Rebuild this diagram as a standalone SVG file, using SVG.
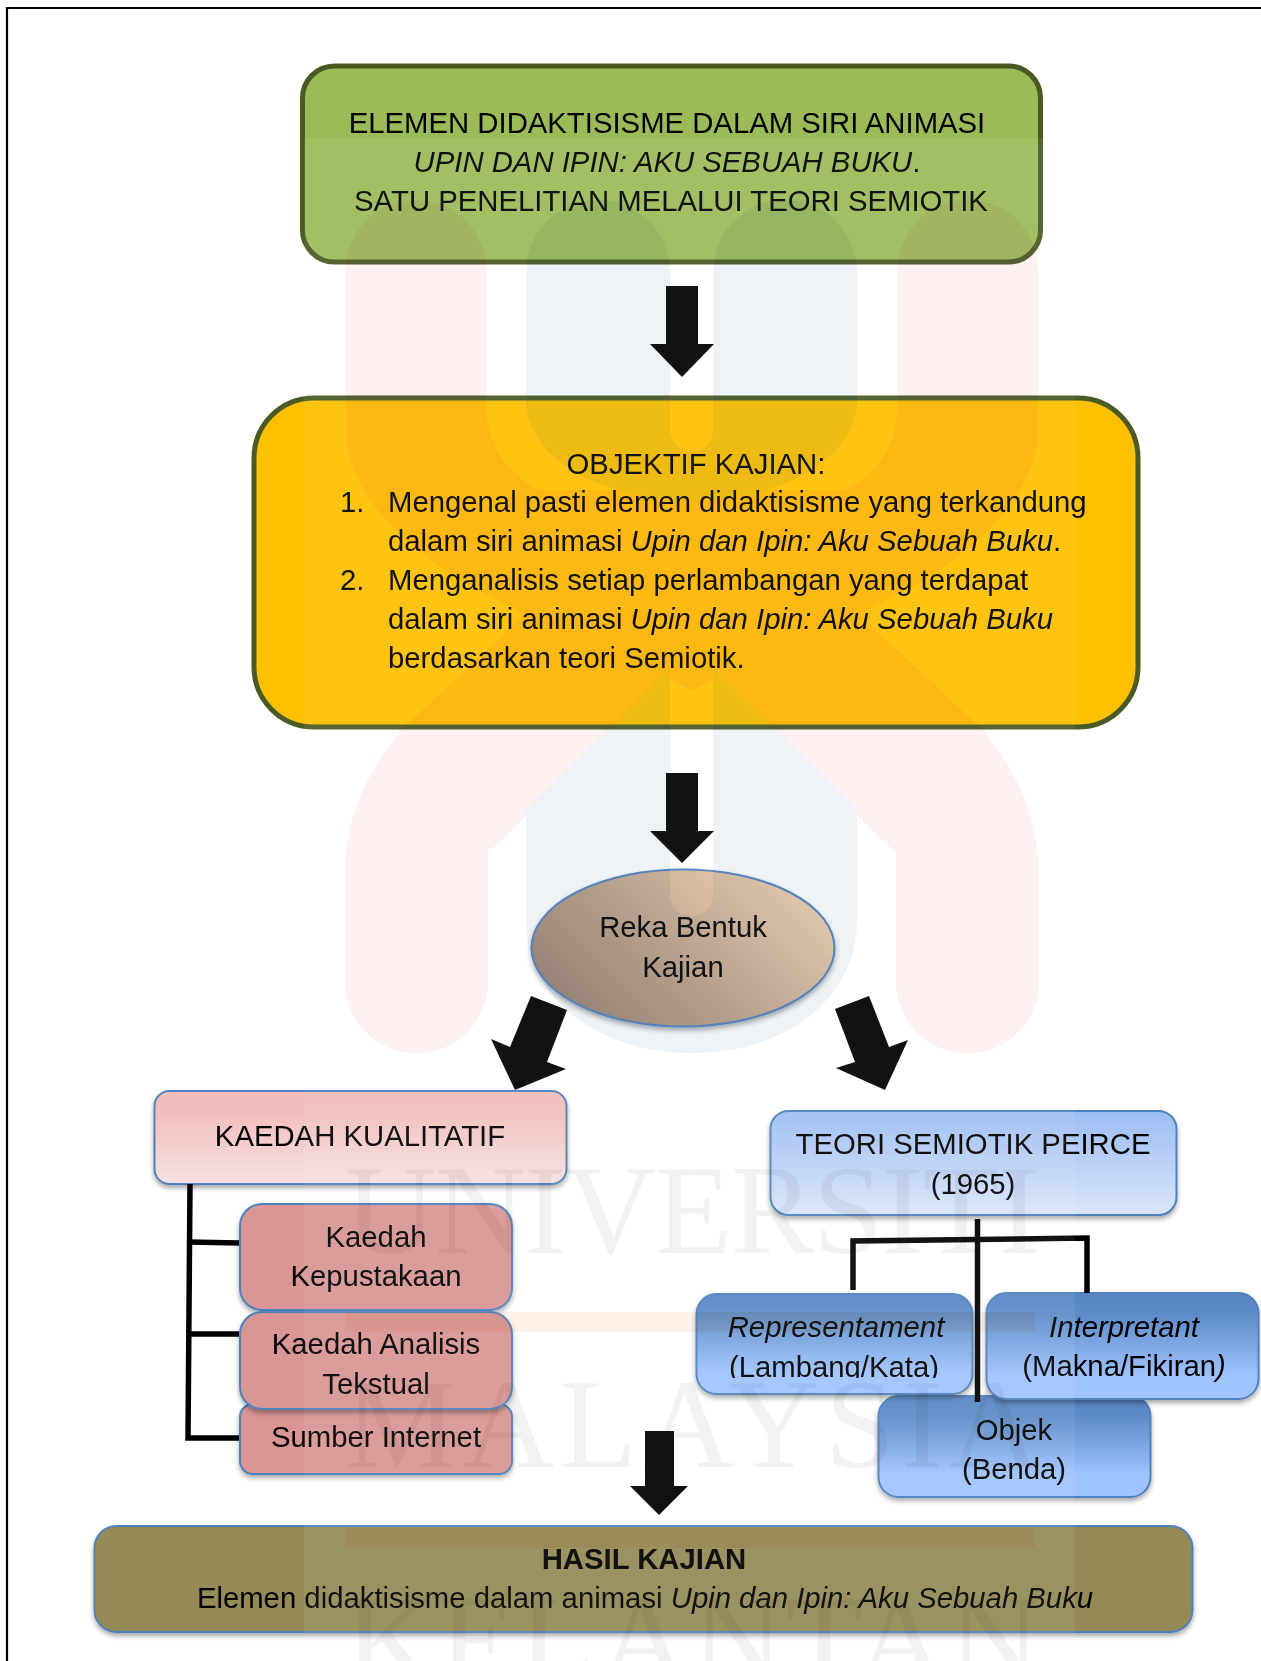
<svg xmlns="http://www.w3.org/2000/svg" width="1261" height="1661" viewBox="0 0 1261 1661">
<style>
text{font-family:"Liberation Sans",Arial,sans-serif;font-size:29.3px;fill:#000;text-anchor:middle}
.l{text-anchor:start}
.i{font-style:italic}
.b{font-weight:bold}
.box{stroke:#4f81bd;stroke-width:2;filter:url(#sh)}
.main{stroke:#495a24;stroke-width:5}
.conn{stroke:#000;stroke-width:5.5;fill:none}
.arr{fill:#000}
</style>
<defs>
<filter id="sh" x="-10%" y="-10%" width="120%" height="130%"><feDropShadow dx="0" dy="3" stdDeviation="2.5" flood-color="#000" flood-opacity="0.35"/></filter>
<linearGradient id="pink" x1="0" y1="0" x2="0" y2="1"><stop offset="0" stop-color="#f2bcbb"/><stop offset="0.2" stop-color="#f2bdbc"/><stop offset="1" stop-color="#f7e1e2"/></linearGradient>
<linearGradient id="pale" x1="0" y1="0" x2="0" y2="1"><stop offset="0" stop-color="#9bbcf2"/><stop offset="1" stop-color="#dae6fb"/></linearGradient>
<linearGradient id="mid" x1="0" y1="0" x2="0" y2="1"><stop offset="0" stop-color="#5786c2"/><stop offset="0.2" stop-color="#5c8bc7"/><stop offset="0.78" stop-color="#9fc3fe"/><stop offset="1" stop-color="#a0c4ff"/></linearGradient>
<linearGradient id="tan" gradientUnits="userSpaceOnUse" x1="595" y1="1030" x2="765" y2="860"><stop offset="0" stop-color="#9a8270"/><stop offset="1" stop-color="#edcaa9"/></linearGradient>
<clipPath id="clipLamb"><rect x="700" y="1345" width="270" height="33"/></clipPath>
</defs>
<rect width="1261" height="1661" fill="#fff"/>
<g id="frame"><path d="M7 1661V8H1261" fill="none" stroke="#000" stroke-width="2.2"/></g>

<g id="node-judul">
<rect class="main" x="302.5" y="66" width="738" height="196" rx="32" fill="#9bbb59"/>
<text x="667" y="133">ELEMEN DIDAKTISISME DALAM SIRI ANIMASI</text>
<text x="667" y="172"><tspan class="i">UPIN DAN IPIN: AKU SEBUAH BUKU</tspan>.</text>
<text x="671" y="211">SATU PENELITIAN MELALUI TEORI SEMIOTIK</text>
</g>

<g id="node-objektif">
<rect class="main" x="254" y="398" width="884" height="329" rx="60" fill="#ffc000"/>
<text x="696" y="474">OBJEKTIF KAJIAN:</text>
<text class="l" x="340" y="512">1.</text>
<text class="l" x="388" y="512">Mengenal pasti elemen didaktisisme yang terkandung</text>
<text class="l" x="388" y="551">dalam siri animasi <tspan class="i">Upin dan Ipin: Aku Sebuah Buku</tspan>.</text>
<text class="l" x="340" y="590">2.</text>
<text class="l" x="388" y="590">Menganalisis setiap perlambangan yang terdapat</text>
<text class="l" x="388" y="629">dalam siri animasi <tspan class="i">Upin dan Ipin: Aku Sebuah Buku</tspan></text>
<text class="l" x="388" y="668">berdasarkan teori Semiotik.</text>
</g>

<g id="node-reka">
<ellipse cx="683" cy="948" rx="151.5" ry="78.5" fill="url(#tan)" class="box"/>
<text x="683" y="937">Reka Bentuk</text>
<text x="683" y="977">Kajian</text>
</g>

<g id="node-kualitatif">
<rect x="154.5" y="1091" width="412" height="93" rx="15" fill="url(#pink)" class="box"/>
<text x="360" y="1146">KAEDAH KUALITATIF</text>
</g>

<g id="node-sumber">
<rect x="240" y="1404" width="272" height="70" rx="13" fill="#d99694" class="box"/>
<text x="376" y="1447">Sumber Internet</text>
</g>
<g id="node-kepustakaan">
<rect x="240" y="1204" width="272" height="106" rx="22" fill="#d99694" class="box"/>
<text x="376" y="1247">Kaedah</text>
<text x="376" y="1286">Kepustakaan</text>
</g>
<g id="node-analisis">
<rect x="240" y="1312" width="272" height="97" rx="22" fill="#d99694" class="box"/>
<text x="376" y="1354">Kaedah Analisis</text>
<text x="376" y="1394">Tekstual</text>
</g>

<g id="node-teori">
<rect x="770.5" y="1111" width="406" height="104" rx="18" fill="url(#pale)" class="box"/>
<text x="973" y="1154">TEORI SEMIOTIK PEIRCE</text>
<text x="973" y="1194">(1965)</text>
</g>
<g id="node-objek">
<rect x="878.5" y="1396" width="272" height="101" rx="20" fill="url(#mid)" class="box"/>
<text x="1014" y="1440">Objek</text>
<text x="1014" y="1479">(Benda)</text>
</g>
<g id="node-representament">
<rect x="696.5" y="1294" width="276" height="100" rx="20" fill="url(#mid)" class="box"/>
<text class="i" x="836" y="1337">Representament</text>
<text x="834" y="1377" clip-path="url(#clipLamb)">(Lambang/Kata)</text>
</g>
<g id="node-interpretant">
<rect x="986.5" y="1293" width="272" height="106" rx="20" fill="url(#mid)" class="box"/>
<text class="i" x="1124" y="1337">Interpretant</text>
<text x="1124" y="1376">(Makna/Fikiran<tspan class="i">)</tspan></text>
</g>

<g id="node-hasil">
<rect x="94.5" y="1526" width="1098" height="106" rx="22" fill="#948a54" class="box"/>
<text class="b" x="644" y="1569">HASIL KAJIAN</text>
<text x="645" y="1608">Elemen didaktisisme dalam animasi <tspan class="i">Upin dan Ipin: Aku Sebuah Buku</tspan></text>
</g>

<g id="connectors">
<path class="arr" d="M666 286H698V344H714L682 377L650 344H666Z"/>
<path class="arr" d="M666 773H698V831H714L682 863L650 831H666Z"/>
<path class="arr" d="M531 996L567 1010L547 1062L566 1069L515 1090L491 1039L510 1047Z"/>
<path class="arr" d="M869 996L835 1009L855 1062L836 1068L885 1090L908 1040L889 1047Z"/>
<path class="arr" d="M645 1431H674V1486H688L659 1515L630 1486H645Z"/>
<path class="conn" d="M190 1184L188 1438H239"/>
<path class="conn" d="M189 1242L239 1243"/>
<path class="conn" d="M189 1334H239"/>
<path class="conn" d="M977.5 1219V1402"/>
<path class="conn" d="M853 1290V1241L1087 1238V1293"/>
</g>

<g id="watermark-band"><rect x="304" y="138" width="771" height="1523" fill="#fff" opacity="0.07"/></g>
<g id="watermark" style="mix-blend-mode:multiply">
<path fill="#fdf1f1" d="M346 270A70 70 0 0 1 486 270V400C486 450 510 475 540 490H844C874 475 898 450 898 400V270A70 70 0 0 1 1038 270V430C1038 500 964 570 844 620L692 690L540 620C420 570 346 500 346 430Z"/>
<path fill="#fdf1f1" d="M345 982A71 71 0 0 0 488 982V853L692 655L896 853V982A71 71 0 0 0 1039 982V880C1039 810 1014 770 982 729L844 600H540L402 729C370 770 345 810 345 880Z"/>
<path fill="#eef3f8" d="M526 272A72 72 0 0 1 670 272V430A21.5 21.5 0 0 0 713 430V272A72 72 0 0 1 857 272V400C857 460 780 500 692 500C604 500 526 460 526 400Z"/>
<path fill="#eef3f8" d="M670 668L526 810V920C526 1000 600 1053 692 1053C784 1053 857 1000 857 920V810L713 668V895A21.5 21.5 0 0 1 670 895Z"/>
<text x="345" y="1253" style="text-anchor:start;font-family:'Liberation Serif',serif;font-size:126px;fill:#f2f2f2" textLength="695">UNIVERSITI</text>
<rect x="345" y="1312" width="690" height="20" fill="#fdf3ea"/>
<text x="345" y="1467" style="text-anchor:start;font-family:'Liberation Serif',serif;font-size:126px;fill:#f2f2f2" textLength="695">MALAYSIA</text>
<rect x="345" y="1528" width="690" height="20" fill="#fff3e6"/>
<text x="345" y="1683" style="text-anchor:start;font-family:'Liberation Serif',serif;font-size:126px;fill:#f2f2f2" textLength="695">KELANTAN</text>
</g>
</svg>
